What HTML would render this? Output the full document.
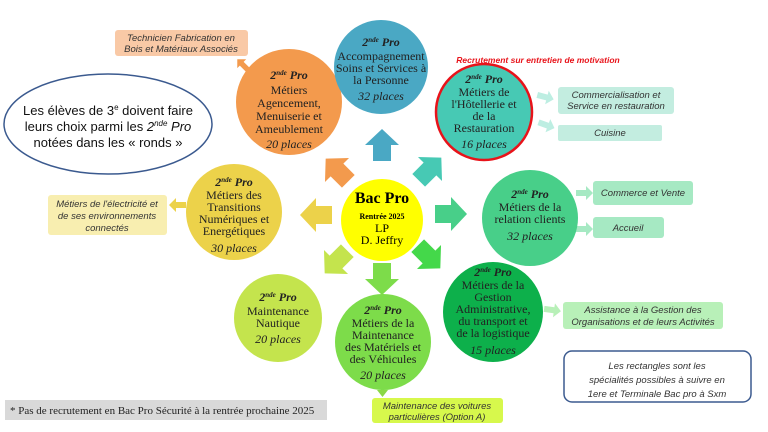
<!DOCTYPE html>
<html><head><meta charset="utf-8"><style>
html,body{margin:0;padding:0;background:#fff;}
svg{display:block;}
.s{font-family:"Liberation Serif",serif;font-size:12px;fill:#222;text-anchor:middle;}
.a{font-family:"Liberation Sans",sans-serif;font-size:9.5px;font-style:italic;fill:#333;text-anchor:middle;}
.h{font-weight:bold;font-style:italic;}
.i{font-style:italic;}
</style></head><body>
<svg width="768" height="432" viewBox="0 0 768 432" xmlns="http://www.w3.org/2000/svg">
<defs>
<path id="ar" d="M-9,16 L9,16 L9,0 L17,0 L0,-16 L-17,0 L-9,0 Z"/>
<path id="sa" d="M-8,-3 L2,-3 L2,-7 L9,0 L2,7 L2,3 L-8,3 Z"/>
</defs>

<use href="#ar" transform="translate(382,145)" fill="#4aa8c4"/>
<use href="#ar" transform="translate(337,170) rotate(-45)" fill="#f39a4d"/>
<use href="#ar" transform="translate(430,169) rotate(45)" fill="#47c9b4"/>
<use href="#ar" transform="translate(316,215) rotate(-90)" fill="#ecd24a"/>
<use href="#ar" transform="translate(451,214) rotate(90)" fill="#48cf89"/>
<use href="#ar" transform="translate(336,262) rotate(-135)" fill="#c4e44d"/>
<use href="#ar" transform="translate(382,279) rotate(180)" fill="#7ddc4a"/>
<use href="#ar" transform="translate(429,257) rotate(135)" fill="#44d84a"/>

<use href="#sa" transform="translate(243,65) rotate(-135) scale(0.9)" fill="#f39a4d"/>
<use href="#sa" transform="translate(178,205) rotate(180)" fill="#ecd24a"/>
<use href="#sa" transform="translate(545,97) rotate(15)" fill="#bdeee2"/>
<use href="#sa" transform="translate(546,125) rotate(20)" fill="#bdeee2"/>
<use href="#sa" transform="translate(584,193)" fill="#a6e9c3"/>
<use href="#sa" transform="translate(584,229)" fill="#a6e9c3"/>
<use href="#sa" transform="translate(552,310) rotate(8)" fill="#b8f0b8"/>
<rect x="381" y="370" width="3" height="22" fill="#8ad846"/>
<path d="M377,390 L388,390 L382.5,397 Z" fill="#8ad846"/>

<circle cx="289" cy="102" r="53" fill="#f39a4d"/>
<circle cx="381" cy="67" r="47" fill="#4aa8c4"/>
<circle cx="484" cy="112" r="48" fill="#47c9b4" stroke="#e8131a" stroke-width="2.5"/>
<circle cx="234" cy="212" r="48" fill="#ecd24a"/>
<circle cx="382" cy="220" r="41" fill="#ffff00"/>
<circle cx="530" cy="218" r="48" fill="#48cf89"/>
<circle cx="278" cy="318" r="44" fill="#c4e44d"/>
<circle cx="383" cy="342" r="48" fill="#7ddc4a"/>
<circle cx="493" cy="312" r="50" fill="#0db04b"/>

<g class="s">
<text x="289" y="79"><tspan class="h">2<tspan font-size="7" dy="-4">nde</tspan><tspan dy="4"> Pro</tspan></tspan></text>
<text x="289" y="94">Métiers</text><text x="289" y="107">Agencement,</text><text x="289" y="120">Menuiserie et</text><text x="289" y="133">Ameublement</text>
<text x="289" y="148" class="i">20 places</text>

<text x="381" y="46"><tspan class="h">2<tspan font-size="7" dy="-4">nde</tspan><tspan dy="4"> Pro</tspan></tspan></text>
<text x="381" y="60">Accompagnement</text><text x="381" y="72">Soins et Services à</text><text x="381" y="84">la Personne</text>
<text x="381" y="100" class="i">32 places</text>

<text x="484" y="83"><tspan class="h">2<tspan font-size="7" dy="-4">nde</tspan><tspan dy="4"> Pro</tspan></tspan></text>
<text x="484" y="96">Métiers de</text><text x="484" y="108">l'Hôtellerie et</text><text x="484" y="120">de la</text><text x="484" y="132">Restauration</text>
<text x="484" y="148" class="i">16 places</text>

<text x="234" y="186"><tspan class="h">2<tspan font-size="7" dy="-4">nde</tspan><tspan dy="4"> Pro</tspan></tspan></text>
<text x="234" y="199">Métiers des</text><text x="234" y="211">Transitions</text><text x="234" y="223">Numériques et</text><text x="234" y="235">Energétiques</text>
<text x="234" y="252" class="i">30 places</text>

<text x="382" y="203" font-weight="bold" font-size="16px" fill="#000">Bac Pro</text>
<text x="382" y="219" font-weight="bold" font-size="8px" fill="#000">Rentrée 2025</text>
<text x="382" y="232" fill="#000">LP</text>
<text x="382" y="244" fill="#000">D. Jeffry</text>

<text x="530" y="198"><tspan class="h">2<tspan font-size="7" dy="-4">nde</tspan><tspan dy="4"> Pro</tspan></tspan></text>
<text x="530" y="211">Métiers de la</text><text x="530" y="223">relation clients</text>
<text x="530" y="240" class="i">32 places</text>

<text x="278" y="301"><tspan class="h">2<tspan font-size="7" dy="-4">nde</tspan><tspan dy="4"> Pro</tspan></tspan></text>
<text x="278" y="315">Maintenance</text><text x="278" y="327">Nautique</text>
<text x="278" y="343" class="i">20 places</text>

<text x="383" y="314"><tspan class="h">2<tspan font-size="7" dy="-4">nde</tspan><tspan dy="4"> Pro</tspan></tspan></text>
<text x="383" y="327">Métiers de la</text><text x="383" y="339">Maintenance</text><text x="383" y="351">des Matériels et</text><text x="383" y="363">des Véhicules</text>
<text x="383" y="379" class="i">20 places</text>

<text x="493" y="276"><tspan class="h">2<tspan font-size="7" dy="-4">nde</tspan><tspan dy="4"> Pro</tspan></tspan></text>
<text x="493" y="289">Métiers de la</text><text x="493" y="301">Gestion</text><text x="493" y="313">Administrative,</text><text x="493" y="325">du transport et</text><text x="493" y="337">de la logistique</text>
<text x="493" y="354" class="i">15 places</text>
</g>

<text x="538" y="63" font-family="Liberation Sans,sans-serif" font-size="8.5px" font-weight="bold" font-style="italic" fill="#e8131a" text-anchor="middle">Recrutement sur entretien de motivation</text>

<rect x="115" y="30" width="133" height="26" rx="3" fill="#f9c9a6"/>
<text class="a" x="181" y="41">Technicien Fabrication en</text><text class="a" x="181" y="52">Bois et Matériaux Associés</text>

<rect x="48" y="195" width="119" height="40" rx="3" fill="#f8eeb0"/>
<text class="a" x="107" y="207">Métiers de l'électricité et</text><text class="a" x="107" y="219">de ses environnements</text><text class="a" x="107" y="231">connectés</text>

<rect x="558" y="87" width="116" height="27" rx="3" fill="#c3ede0"/>
<text class="a" x="616" y="98">Commercialisation et</text><text class="a" x="616" y="109">Service en restauration</text>
<rect x="558" y="125" width="104" height="16" rx="2" fill="#c3ede0"/>
<text class="a" x="610" y="136">Cuisine</text>

<rect x="593" y="181" width="100" height="24" rx="3" fill="#a6e9c3"/>
<text class="a" x="643" y="196">Commerce et Vente</text>
<rect x="593" y="217" width="71" height="21" rx="3" fill="#a6e9c3"/>
<text class="a" x="628" y="231">Accueil</text>

<rect x="563" y="302" width="160" height="27" rx="3" fill="#b8f0b8"/>
<text class="a" x="643" y="313">Assistance à la Gestion des</text><text class="a" x="643" y="325">Organisations et de leurs Activités</text>

<rect x="372" y="398" width="131" height="25" rx="3" fill="#d7f84c"/>
<text class="a" x="437" y="409">Maintenance des voitures</text><text class="a" x="437" y="420">particulières (Option A)</text>

<rect x="5" y="400" width="322" height="20" fill="#d9d9d9"/>
<text x="10" y="414" font-family="Liberation Serif,serif" font-size="11px" fill="#222">* Pas de recrutement en Bac Pro Sécurité à la rentrée prochaine 2025</text>

<rect x="564" y="351" width="187" height="51" rx="8" fill="#fff" stroke="#3b5a8f" stroke-width="1.5"/>
<text class="a" x="657" y="369" font-size="11px">Les rectangles sont les</text><text class="a" x="657" y="383" font-size="11px">spécialités possibles à suivre en</text><text class="a" x="657" y="397" font-size="11px">1ere et Terminale Bac pro à Sxm</text>

<ellipse cx="108" cy="124" rx="104" ry="50" fill="#fff" stroke="#3b5a8f" stroke-width="1.5"/>
<g font-family="Liberation Sans,sans-serif" font-size="13px" fill="#111" text-anchor="middle">
<text x="108" y="115">Les élèves de 3<tspan font-size="8" dy="-5">e</tspan><tspan dy="5"> doivent faire</tspan></text>
<text x="108" y="131">leurs choix parmi les <tspan font-style="italic">2<tspan font-size="8" dy="-5">nde</tspan><tspan dy="5"> Pro</tspan></tspan></text>
<text x="108" y="147">notées dans les « ronds »</text>
</g>
</svg>
</body></html>
